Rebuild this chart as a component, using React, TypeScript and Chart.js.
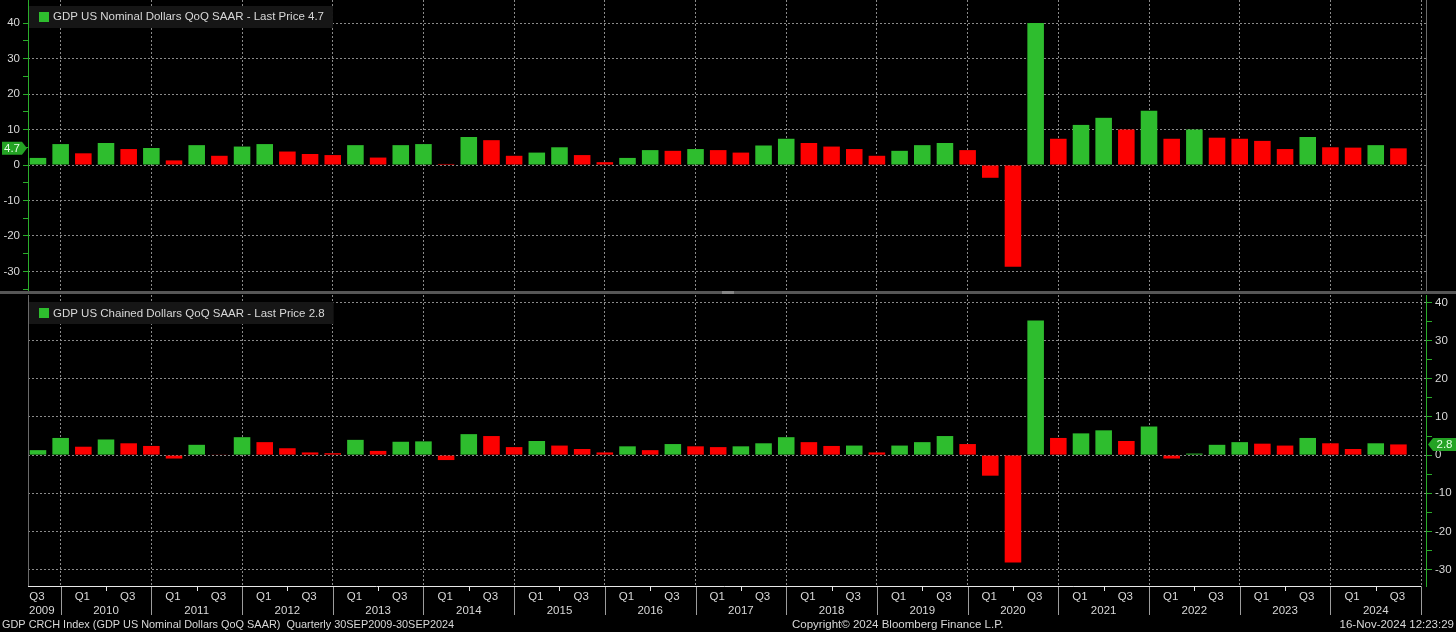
import React, { useEffect, useRef } from "react";
import { Chart, registerables } from "chart.js";

Chart.register(...registerables);

// ---------------- DATA ----------------
const QUARTERS = [
  "2009 Q3", "2009 Q4",
  "2010 Q1", "2010 Q2", "2010 Q3", "2010 Q4",
  "2011 Q1", "2011 Q2", "2011 Q3", "2011 Q4",
  "2012 Q1", "2012 Q2", "2012 Q3", "2012 Q4",
  "2013 Q1", "2013 Q2", "2013 Q3", "2013 Q4",
  "2014 Q1", "2014 Q2", "2014 Q3", "2014 Q4",
  "2015 Q1", "2015 Q2", "2015 Q3", "2015 Q4",
  "2016 Q1", "2016 Q2", "2016 Q3", "2016 Q4",
  "2017 Q1", "2017 Q2", "2017 Q3", "2017 Q4",
  "2018 Q1", "2018 Q2", "2018 Q3", "2018 Q4",
  "2019 Q1", "2019 Q2", "2019 Q3", "2019 Q4",
  "2020 Q1", "2020 Q2", "2020 Q3", "2020 Q4",
  "2021 Q1", "2021 Q2", "2021 Q3", "2021 Q4",
  "2022 Q1", "2022 Q2", "2022 Q3", "2022 Q4",
  "2023 Q1", "2023 Q2", "2023 Q3", "2023 Q4",
  "2024 Q1", "2024 Q2", "2024 Q3",
];

const NOMINAL_QOQ = [
  2.0, 5.9,
  3.3, 6.2, 4.5, 4.8,
  1.3, 5.6, 2.6, 5.2,
  5.9, 3.8, 3.1, 2.8,
  5.6, 2.1, 5.6, 5.9,
  0.3, 7.9, 7.0, 2.6,
  3.5, 5.0, 2.8, 0.8,
  2.0, 4.2, 4.0, 4.5,
  4.2, 3.5, 5.5, 7.4,
  6.2, 5.2, 4.5, 2.6,
  4.0, 5.6, 6.2, 4.2,
  -3.6, -28.7, 40.0, 7.4,
  11.3, 13.3, 10.0, 15.3,
  7.4, 10.0, 7.7, 7.4,
  6.8, 4.5, 7.9, 5.0,
  4.9, 5.6, 4.7,
];

const CHAINED_QOQ = [
  1.3, 4.5,
  2.2, 4.1, 3.1, 2.4,
  -0.9, 2.7, 0.1, 4.7,
  3.4, 1.8, 0.7, 0.5,
  4.0, 1.1, 3.5, 3.6,
  -1.3, 5.5, 5.0, 2.1,
  3.7, 2.5, 1.6, 0.7,
  2.3, 1.3, 2.9, 2.3,
  2.1, 2.3, 3.1, 4.7,
  3.4, 2.4, 2.5, 0.7,
  2.5, 3.4, 5.0, 2.9,
  -5.4, -28.2, 35.3, 4.5,
  5.7, 6.5, 3.7, 7.5,
  -0.9, 0.4, 2.7, 3.4,
  3.0, 2.5, 4.5, 3.1,
  1.6, 3.1, 2.8,
];

const MAJOR_TICKS = [-30, -20, -10, 0, 10, 20, 30, 40];
const MINOR_TICKS = [-35, -25, -15, -5, 5, 15, 25, 35];

const TOP_TITLE = "GDP US Nominal Dollars QoQ SAAR - Last Price";
const BOTTOM_TITLE = "GDP US Chained Dollars QoQ SAAR - Last Price";
const FOOTER_LEFT = "GDP CRCH Index (GDP US Nominal Dollars QoQ SAAR)  Quarterly 30SEP2009-30SEP2024";
const FOOTER_MID = "Copyright\u00A9 2024 Bloomberg Finance L.P.";
const FOOTER_RIGHT = "16-Nov-2024 12:23:29";

// ---------------- LAYOUT / STYLE ----------------
const W = 1456;
const H = 632;
const TOP_H = 291;
const SEP_TOP = 291;
const SEP_H = 4;
const BOT_TOP = 295;
const BOT_H = H - BOT_TOP;
const BOT_PLOT_H = 292;
const PLOT_LEFT = 28;
const PLOT_RIGHT = 1427;
const X_MIN = -0.44;
const X_MAX = 61.26;
const TOP_Y_MIN = -35.5;
const TOP_Y_MAX = 46.5;
const BOT_Y_MIN = -34.6;
const BOT_Y_MAX = 42.0;

const FONT_FAMILY = "'Liberation Sans', Arial, sans-serif";
const FONT_SIZE = 11.5;
const FONT = `${FONT_SIZE}px ${FONT_FAMILY}`;
const FOOTER_LEFT_FONT = `10.9px ${FONT_FAMILY}`;
const GREEN = "#2ebd2e";
const RED = "#fd0000";
const AXIS_GREEN = "#2aad2a";
const TAG_GREEN = "#24a324";
const GRID = "#8a8a8a";
const TEXT = "#d8d8d8";

const parseQ = (s: string) => {
  const [y, q] = s.split(" ");
  return { year: Number(y), q: Number(q.slice(1)) };
};

// index of each year's Q4 (year boundary), extrapolated for partial years
const yearEnds = (): { year: number; idx: number }[] => {
  const out: { year: number; idx: number }[] = [];
  QUARTERS.forEach((s, i) => {
    const { year, q } = parseQ(s);
    if (!out.find((o) => o.year === year)) out.push({ year, idx: i + (4 - q) });
  });
  return out;
};

const barColors = (vals: number[]) =>
  vals.map((v, i) => (i === 0 || v > vals[i - 1] ? GREEN : RED));

function hline(ctx: CanvasRenderingContext2D, x1: number, x2: number, y: number, color: string) {
  ctx.strokeStyle = color;
  ctx.lineWidth = 1;
  ctx.setLineDash([]);
  ctx.beginPath();
  ctx.moveTo(x1, y);
  ctx.lineTo(x2, y);
  ctx.stroke();
}
function vline(ctx: CanvasRenderingContext2D, x: number, y1: number, y2: number, color: string) {
  ctx.strokeStyle = color;
  ctx.lineWidth = 1;
  ctx.setLineDash([]);
  ctx.beginPath();
  ctx.moveTo(x, y1);
  ctx.lineTo(x, y2);
  ctx.stroke();
}

function drawLegend(ctx: CanvasRenderingContext2D, left: number, cy: number, text: string) {
  ctx.font = FONT;
  const tw = ctx.measureText(text).width;
  ctx.fillStyle = "#161616";
  ctx.fillRect(left + 1, Math.round(cy - 11), 25 + tw + 8, 22);
  ctx.fillStyle = GREEN;
  ctx.fillRect(left + 11, Math.round(cy - 5), 10, 10);
  ctx.fillStyle = TEXT;
  ctx.textAlign = "left";
  ctx.textBaseline = "middle";
  ctx.fillText(text, left + 25, cy + 0.5);
}

function drawTag(ctx: CanvasRenderingContext2D, side: "left" | "right", tipX: number, y: number, text: string, w: number) {
  const h = 13;
  const tip = 5;
  ctx.fillStyle = TAG_GREEN;
  ctx.beginPath();
  if (side === "left") {
    ctx.moveTo(tipX, y);
    ctx.lineTo(tipX - tip, y - h / 2);
    ctx.lineTo(tipX - tip - w, y - h / 2);
    ctx.lineTo(tipX - tip - w, y + h / 2);
    ctx.lineTo(tipX - tip, y + h / 2);
  } else {
    ctx.moveTo(tipX, y);
    ctx.lineTo(tipX + tip, y - h / 2);
    ctx.lineTo(tipX + tip + w, y - h / 2);
    ctx.lineTo(tipX + tip + w, y + h / 2);
    ctx.lineTo(tipX + tip, y + h / 2);
  }
  ctx.closePath();
  ctx.fill();
  ctx.fillStyle = "#e6ffe6";
  ctx.font = FONT;
  ctx.textAlign = "center";
  ctx.textBaseline = "middle";
  const cx = side === "left" ? tipX - tip - w / 2 : tipX + tip + w / 2;
  ctx.fillText(text, cx, y + 0.5);
}

function yScale(position: "left" | "right", min: number, max: number, width: number) {
  return {
    type: "linear" as const,
    position,
    min,
    max,
    afterBuildTicks: (s: any) => {
      s.ticks = [...MAJOR_TICKS, ...MINOR_TICKS]
        .filter((v) => v >= min && v <= max)
        .sort((a, b) => a - b)
        .map((v) => ({ value: v }));
    },
    afterFit: (s: any) => {
      s.width = width;
      s.paddingTop = 0;
      s.paddingBottom = 0;
    },
    ticks: {
      autoSkip: false,
      color: TEXT,
      padding: 3,
      font: { family: FONT_FAMILY, size: FONT_SIZE },
      callback: (v: any) => (MAJOR_TICKS.includes(Number(v)) ? String(v) : ""),
    },
    grid: {
      color: (c: any) => (c.tick && MAJOR_TICKS.includes(c.tick.value) ? GRID : "rgba(0,0,0,0)"),
      lineWidth: 1,
      drawTicks: true,
      tickLength: 5,
      tickColor: AXIS_GREEN,
      tickWidth: 1,
      tickBorderDash: [],
    },
    border: { display: false, dash: [2, 2] },
  };
}

function xScale(height: number) {
  const ends = yearEnds().map((e) => e.idx);
  return {
    type: "linear" as const,
    min: X_MIN,
    max: X_MAX,
    offset: false,
    afterBuildTicks: (s: any) => {
      s.ticks = ends.filter((v) => v <= X_MAX).map((v) => ({ value: v }));
    },
    afterFit: (s: any) => {
      s.height = height;
      s.paddingLeft = 0;
      s.paddingRight = 0;
    },
    ticks: { display: false },
    grid: { offset: false, color: GRID, lineWidth: 1, drawTicks: false },
    border: { display: false, dash: [2, 2] },
  };
}

function dataset(vals: number[]) {
  return {
    data: vals.map((v, i) => ({ x: i, y: v })),
    backgroundColor: barColors(vals),
    borderWidth: 0,
    barPercentage: 0.73,
    categoryPercentage: 1,
  };
}

const topDecor = {
  id: "topDecor",
  afterDraw(chart: any) {
    const { ctx, chartArea: a, scales } = chart;
    ctx.save();
    vline(ctx, a.right - 0.5, a.top, a.bottom, "#6a6a6a");
    vline(ctx, a.left + 0.5, a.top, a.bottom, AXIS_GREEN);
    const last = NOMINAL_QOQ[NOMINAL_QOQ.length - 1];
    drawLegend(ctx, a.left, 16.7, `${TOP_TITLE} ${last.toFixed(1)}`);
    drawTag(ctx, "left", a.left - 1, scales.y.getPixelForValue(last), last.toFixed(1), 20);
    ctx.restore();
  },
};

const bottomDecor = {
  id: "bottomDecor",
  afterDraw(chart: any) {
    const { ctx, chartArea: a, scales } = chart;
    const x = scales.x;
    ctx.save();
    const ends = yearEnds();
    const lastSep = Math.round(x.getPixelForValue(ends[ends.length - 1].idx)) + 0.5;

    vline(ctx, a.left + 0.5, a.top, a.bottom, "#6a6a6a");
    vline(ctx, a.right - 0.5, a.top, a.bottom, AXIS_GREEN);
    hline(ctx, a.left, Math.min(lastSep, a.right), a.bottom - 0.5, "#e8e8e8");

    ctx.font = FONT;
    ctx.fillStyle = TEXT;
    ctx.textBaseline = "middle";

    // year separators and mid-year ticks
    ends.forEach((e) => {
      const px = Math.round(x.getPixelForValue(e.idx)) + 0.5;
      if (px <= a.right) vline(ctx, px, a.bottom, a.bottom + 28, "#9c9c9c");
    });
    QUARTERS.forEach((s, i) => {
      const { q } = parseQ(s);
      const px = x.getPixelForValue(i);
      if (q === 2) vline(ctx, Math.round(px) + 0.5, a.bottom, a.bottom + 4, "#e8e8e8");
      if (q === 1 || q === 3) {
        ctx.textAlign = "center";
        ctx.fillText(`Q${q}`, px - 1, a.bottom + 9.5);
      }
    });
    // year labels
    ends.forEach((e) => {
      const p0 = x.getPixelForValue(e.idx - 4);
      const p1 = Math.min(x.getPixelForValue(e.idx), a.right);
      const label = String(e.year);
      const tw = ctx.measureText(label).width;
      let cx = (p0 + p1) / 2;
      cx = Math.max(cx, a.left + 1 + tw / 2);
      cx = Math.min(cx, a.right - 1 - tw / 2);
      ctx.textAlign = "center";
      ctx.fillText(label, cx, a.bottom + 23.5);
    });

    // footer
    const fy = a.bottom + 37.5;
    ctx.textAlign = "left";
    ctx.font = FOOTER_LEFT_FONT;
    ctx.fillText(FOOTER_LEFT, 2, fy);
    ctx.font = FONT;
    ctx.fillText(FOOTER_MID, 792, fy);
    ctx.textAlign = "right";
    ctx.fillText(FOOTER_RIGHT, W - 2, fy);

    const last = CHAINED_QOQ[CHAINED_QOQ.length - 1];
    drawLegend(ctx, a.left, 18.3, `${BOTTOM_TITLE} ${last.toFixed(1)}`);
    drawTag(ctx, "right", a.right + 1, scales.y.getPixelForValue(last), last.toFixed(1), 23);
    ctx.restore();
  },
};

export default function App() {
  const topRef = useRef<HTMLCanvasElement | null>(null);
  const botRef = useRef<HTMLCanvasElement | null>(null);

  useEffect(() => {
    document.body.style.margin = "0";
    document.body.style.background = "#000";
    Chart.defaults.font.family = FONT_FAMILY;
    Chart.defaults.font.size = FONT_SIZE;

    const common = {
      responsive: false,
      maintainAspectRatio: false,
      animation: false as const,
      devicePixelRatio: 1,
      plugins: { legend: { display: false }, tooltip: { enabled: false } },
    };

    const top = new Chart(topRef.current!, {
      type: "bar",
      data: { datasets: [dataset(NOMINAL_QOQ) as any] },
      options: {
        ...common,
        layout: { autoPadding: false, padding: { left: 0, right: W - PLOT_RIGHT, top: 0, bottom: 0 } },
        scales: {
          x: xScale(0) as any,
          y: yScale("left", TOP_Y_MIN, TOP_Y_MAX, PLOT_LEFT) as any,
        },
      },
      plugins: [topDecor],
    });

    const bottom = new Chart(botRef.current!, {
      type: "bar",
      data: { datasets: [dataset(CHAINED_QOQ) as any] },
      options: {
        ...common,
        layout: { autoPadding: false, padding: { left: PLOT_LEFT, right: 0, top: 0, bottom: 0 } },
        scales: {
          x: xScale(BOT_H - BOT_PLOT_H) as any,
          y: yScale("right", BOT_Y_MIN, BOT_Y_MAX, W - PLOT_RIGHT) as any,
        },
      },
      plugins: [bottomDecor],
    });

    return () => {
      top.destroy();
      bottom.destroy();
    };
  }, []);

  return (
    <div style={{ position: "relative", width: W, height: H, background: "#000", overflow: "hidden" }}>
      <canvas ref={topRef} width={W} height={TOP_H} style={{ position: "absolute", left: 0, top: 0, display: "block" }} />
      <div style={{ position: "absolute", left: 0, top: SEP_TOP, width: W, height: SEP_H - 1, background: "#565656" }}>
        <div style={{ position: "absolute", left: 722, top: 0, width: 12, height: SEP_H - 1, background: "#858585" }} />
      </div>
      <canvas ref={botRef} width={W} height={BOT_H} style={{ position: "absolute", left: 0, top: BOT_TOP, display: "block" }} />
    </div>
  );
}
